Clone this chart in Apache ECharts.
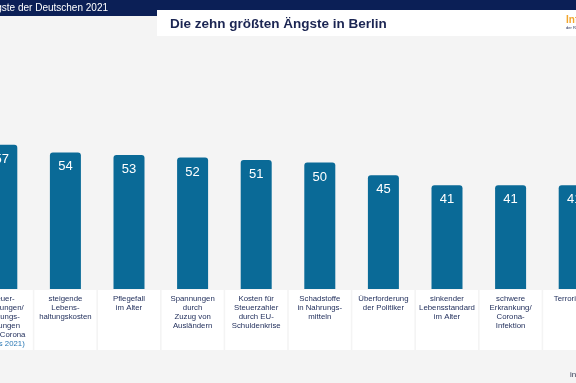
<!DOCTYPE html>
<html>
<head>
<meta charset="utf-8">
<script src="https://cdn.jsdelivr.net/npm/echarts@6/dist/echarts.min.js"></script>
<style>
html,body{margin:0;padding:0;width:576px;height:383px;overflow:hidden;background:#f4f4f4;}
#c{position:absolute;left:-32px;top:0;width:640px;height:383px;}
</style>
</head>
<body>
<div id="c"></div>
<script>
const headerText = 'Die zehn größten Ängste der Deutschen 2021';
const titleText = 'Die zehn größten Ängste in Berlin';
const categories = [
  'Steuer-\nerhöhungen/\nLeistungs-\nkürzungen\ndurch Corona\n(Fokus 2021)',
  'steigende\nLebens-\nhaltungskosten',
  'Pflegefall\nim Alter',
  'Spannungen\ndurch\nZuzug von\nAusländern',
  'Kosten für\nSteuerzahler\ndurch EU-\nSchuldenkrise',
  'Schadstoffe\nin Nahrungs-\nmitteln',
  'Überforderung\nder Politiker',
  'sinkender\nLebensstandard\nim Alter',
  'schwere\nErkrankung/\nCorona-\nInfektion',
  'Terrorismus'
];
const values = [57, 54, 53, 52, 51, 50, 45, 41, 41, 41];

const OX = 32;
const navy = '#0b1f56';
const chart = echarts.init(document.getElementById('c'), null, {renderer: 'canvas'});
chart.setOption({
  backgroundColor: '#f4f4f4',
  animation: false,
  grid: {left: 0, right: 0, top: 36, bottom: 94},
  xAxis: {
    type: 'category',
    data: categories,
    axisLine: {show: false},
    axisTick: {show: false},
    axisLabel: {
      interval: 0,
      margin: 1,
      width: 62,
      height: 56,
      padding: [4, 0, 0, 0],
      backgroundColor: '#ffffff',
      align: 'center',
      verticalAlign: 'top',
      fontFamily: 'Liberation Sans, Arial, sans-serif',
      fontSize: 7.8,
      lineHeight: 9,
      color: '#1c2a58',
      formatter: function (v, i) {
        if (i === 0) {
          const lines = v.split('\n');
          const last = lines.pop();
          return lines.map(l => '{a|' + l + '}').join('\n') + '\n{b|' + last + '}';
        }
        return v;
      },
      rich: {
        a: {fontSize: 7.8, lineHeight: 9, color: '#1c2a58', fontFamily: 'Liberation Sans, Arial, sans-serif'},
        b: {fontSize: 7.8, lineHeight: 9, color: '#2a78b4', fontFamily: 'Liberation Sans, Arial, sans-serif'}
      }
    }
  },
  yAxis: {
    type: 'value', min: 0, max: 100, show: false, splitLine: {show: false}
  },
  series: [{
    type: 'bar',
    data: values,
    barWidth: 31,
    itemStyle: {color: '#0a6a97', borderRadius: [3, 3, 0, 0]},
    label: {
      show: true,
      position: 'insideTop',
      distance: 8,
      color: '#ffffff',
      fontSize: 13,
      fontFamily: 'Liberation Sans, Arial, sans-serif'
    }
  }],
  graphic: [
    {type: 'rect', shape: {x: 0, y: 0, width: 640, height: 10}, style: {fill: navy}, z: 10},
    {type: 'rect', shape: {x: 0, y: 0, width: 157 + OX, height: 16}, style: {fill: navy}, z: 10},
    {type: 'text', x: 108 + OX, y: 8, z: 11, style: {text: headerText, fill: '#ffffff', font: '10px "Liberation Sans", Arial, sans-serif', textAlign: 'right', textVerticalAlign: 'middle'}},
    {type: 'rect', shape: {x: 157 + OX, y: 10, width: 500, height: 26}, style: {fill: '#ffffff'}, z: 10},
    {type: 'text', x: 170 + OX, y: 24, z: 11, style: {text: titleText, fill: '#1b2552', font: 'bold 13.5px "Liberation Sans", Arial, sans-serif', textAlign: 'left', textVerticalAlign: 'middle'}},
    {type: 'text', x: 566 + OX, y: 20, z: 11, style: {text: 'Infocenter', fill: '#f2a52c', font: 'bold 10px "Liberation Sans", Arial, sans-serif', textAlign: 'left', textVerticalAlign: 'middle'}},
    {type: 'text', x: 566 + OX, y: 28, z: 11, style: {text: 'der R+V Versicherung', fill: '#1b2552', font: '4px "Liberation Sans", Arial, sans-serif', textAlign: 'left', textVerticalAlign: 'middle'}},
    {type: 'text', x: 570 + OX, y: 375, z: 11, style: {text: 'infocenter.ruv.de', fill: '#333a55', font: '8px "Liberation Sans", Arial, sans-serif', textAlign: 'left', textVerticalAlign: 'middle'}}
  ]
});
</script>
</body>
</html>
